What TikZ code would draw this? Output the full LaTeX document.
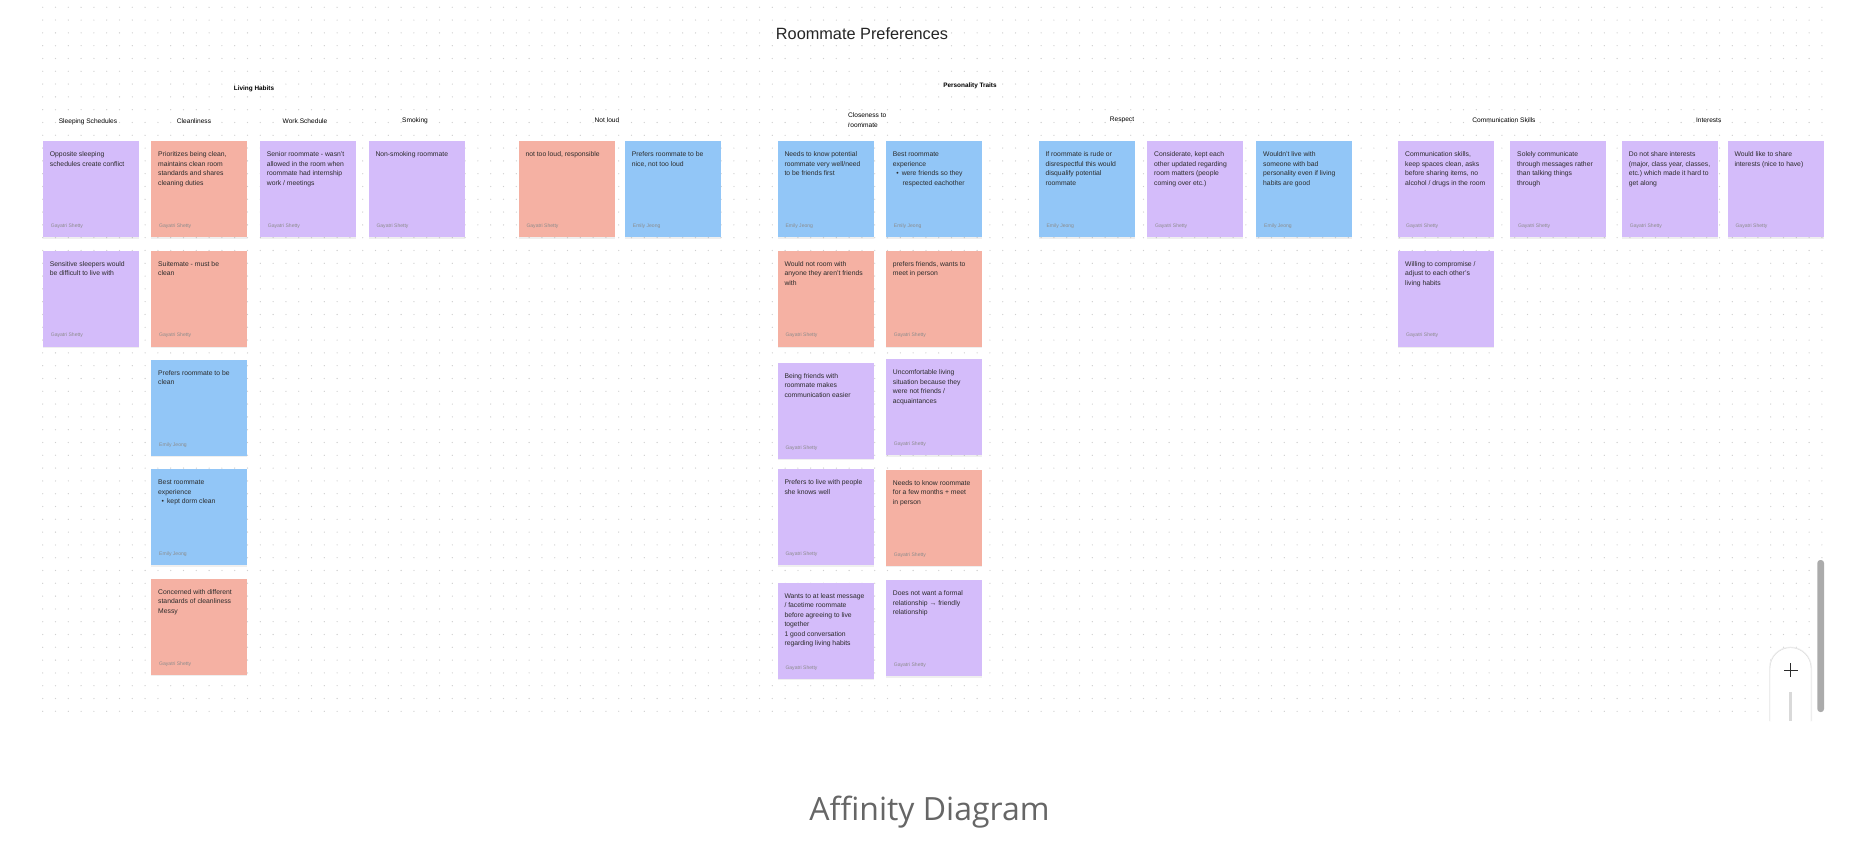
\documentclass[tikz,border=0pt]{standalone}
\usepackage{fontspec}
\setmainfont{Liberation Sans}
\newfontfamily\captionfont{Open Sans}
\usepackage{xcolor}
\usepackage{tikz}
\usetikzlibrary{positioning, shadows}
\definecolor{NotePurple}{HTML}{D4BCFA}
\definecolor{NoteSalmon}{HTML}{F5B1A3}
\definecolor{NoteBlue}{HTML}{92C6F7}
\definecolor{InkGrey}{HTML}{2B2B2B}
\definecolor{DotGrey}{HTML}{CFCFCF}
\definecolor{CaptionGrey}{HTML}{666666}
\definecolor{BarGrey}{HTML}{ABABAB}

\begin{document}
\begin{tikzpicture}[x=1pt, y=-1pt, every node/.style={text=InkGrey, inner sep=0pt},
    note/.style={anchor=north west, minimum width=96pt, minimum height=96pt, inner xsep=7pt, inner ysep=8pt,
      text width=82pt, align=left, text height=7.5pt, text depth=72.5pt, font=\fontsize{6.8}{9.5}\selectfont,
      execute at begin node={\spaceskip=0pt\xspaceskip=0pt\frenchspacing},
      drop shadow={shadow xshift=0pt, shadow yshift=-1.5pt, opacity=0.12}},
    lav/.style={note, fill=NotePurple},
    coral/.style={note, fill=NoteSalmon},
    sky/.style={note, fill=NoteBlue},
    author/.style={font=\fontsize{5.05}{6}\selectfont, text=black!45, anchor=base west, xshift=8pt, yshift=10pt},
    gs/.style={label={[author]south west:Gayatri Shetty}},
    ej/.style={label={[author]south west:Emily Jeong}},
    head/.style={font=\fontsize{6.6}{9.6}\selectfont, text=black},
    group/.style={font=\bfseries\fontsize{6.4}{8}\selectfont, text=black}]
  \useasboundingbox (0,0) rectangle (1872,866);
  \fill[white] (0,0) rectangle (1872,866);

  % dotted board
  \foreach \r in {0,...,55}
    \draw[DotGrey, line width=1.3pt, line cap=round, dash pattern=on 0pt off 12.8pt] (42.7,7.3+12.8*\r) -- (1822,7.3+12.8*\r);

  \node[font=\fontsize{16.3}{18}\selectfont, text=black!85] (title) at (862,34) {Roommate Preferences};

  % headings
  \node[group] (living) at (254,89) {Living Habits};
  \node[group] (persona) at (970,86) {Personality Traits};
  \node[head] (hsleep) at (88,121.7) {Sleeping Schedules};
  \node[head] (hclean) at (194,121) {Cleanliness};
  \node[head] (hwork) at (305,121) {Work Schedule};
  \node[head] (hsmoke) at (415,121) {Smoking};
  \node[head] (hloud) at (607,120) {Not loud};
  \node[head, anchor=west, align=left] (hclose) at (848,120) {Closeness to\\roommate};
  \node[head] (hresp) at (1122,120) {Respect};
  \node[head] (hcomm) at (1504,120) {Communication Skills};
  \node[head] (hint) at (1708.7,120) {Interests};

  % living habits
  \node[lav, gs] (sleepA) at (42.7,141) {Opposite sleeping\\schedules create conflict};
  \node[lav, gs, below=13pt of sleepA] (sleepB) {Sensitive sleepers would\\be difficult to live with};

  \node[coral, gs] (cleanA) at (151,141) {Prioritizes being clean,\\maintains clean room\\standards and shares\\cleaning duties};
  \node[coral, gs, below=13pt of cleanA] (cleanB) {Suitemate - must be\\clean};
  \node[sky, ej, below=13pt of cleanB] (cleanC) {Prefers roommate to be\\clean};
  \node[sky, ej, below=13pt of cleanC] (cleanD) {Best roommate\\experience\\\hspace*{3.5pt}\textbullet\hspace{3pt}kept dorm clean};
  \node[coral, gs, below=13pt of cleanD] (cleanE) {Concerned with different\\standards of cleanliness\\Messy};

  \node[lav, gs] (work) at (259.7,141) {Senior roommate - wasn't\\allowed in the room when\\roommate had internship\\work / meetings};
  \node[lav, gs] (smoke) at (368.3,141) {Non-smoking roommate};

  \node[coral, gs] (loudA) at (518.3,141) {not too loud, responsible};
  \node[sky, ej, right=10pt of loudA] (loudB) {Prefers roommate to be\\nice, not too loud};

  % personality traits
  \node[sky, ej] (closeA) at (777.3,141) {Needs to know potential\\roommate very well/need\\to be friends first};
  \node[coral, gs, below=13pt of closeA] (closeB) {Would not room with\\anyone they aren't friends\\with};
  \node[lav, gs, below=16pt of closeB] (closeC) {Being friends with\\roommate makes\\communication easier};
  \node[lav, gs, below=10pt of closeC] (closeD) {Prefers to live with people\\she knows well};
  \node[lav, gs, below=17pt of closeD] (closeE) {Wants to at least message\\/ facetime roommate\\before agreeing to live\\together\\1 good conversation\\regarding living habits};

  \node[sky, ej] (closeF) at (885.7,141) {Best roommate\\experience\\\hspace*{3.5pt}\textbullet\hspace{3pt}were friends so they\\\hspace*{9.7pt}respected eachother};
  \node[coral, gs, below=13pt of closeF] (closeG) {prefers friends, wants to\\meet in person};
  \node[lav, gs, below=12.5pt of closeG] (closeH) {Uncomfortable living\\situation because they\\were not friends /\\acquaintances};
  \node[coral, gs, below=14pt of closeH] (closeI) {Needs to know roommate\\for a few months + meet\\in person};
  \node[lav, gs, below=14pt of closeI] (closeJ) {Does not want a formal\\relationship → friendly\\relationship};

  \node[sky, ej] (respA) at (1038.3,141) {If roommate is rude or\\disrespectful this would\\disqualify potential\\roommate};
  \node[lav, gs] (respB) at (1147,141) {Considerate, kept each\\other updated regarding\\room matters (people\\coming over etc.)};
  \node[sky, ej] (respC) at (1256,141) {Wouldn't live with\\someone with bad\\personality even if living\\habits are good};

  \node[lav, gs] (commA) at (1398,141) {Communication skills,\\keep spaces clean, asks\\before sharing items, no\\alcohol / drugs in the room};
  \node[lav, gs, below=13pt of commA] (commB) {Willing to compromise /\\adjust to each other's\\living habits};
  \node[lav, gs] (commC) at (1510,141) {Solely communicate\\through messages rather\\than talking things\\through};

  \node[lav, gs] (intA) at (1621.7,141) {Do not share interests\\(major, class year, classes,\\etc.) which made it hard to\\get along};
  \node[lav, gs] (intB) at (1727.3,141) {Would like to share\\interests (nice to have)};

  % scroll bar and zoom button
  \fill[BarGrey, rounded corners=3pt] (1817.3,560) rectangle (1824,712);
  \draw[gray!12, line width=2pt, rounded corners=20.5pt] (1770,721) -- (1770,647.7) -- (1811,647.7) -- (1811,721);
  \draw[gray!28, fill=white, rounded corners=20.5pt] (1770,721) -- (1770,647.7) -- (1811,647.7) -- (1811,721);
  \draw[InkGrey, line width=0.9pt] (1784,670) -- (1797.5,670) (1790.7,663.3) -- (1790.7,676.7);
  \draw[gray!30, line width=2.5pt] (1790.7,692) -- (1790.7,721);

  \node[font=\captionfont\fontsize{32}{37}\selectfont, text=CaptionGrey, anchor=base] (caption) at (929.5,820) {Affinity Diagram};
\end{tikzpicture}
\end{document}
